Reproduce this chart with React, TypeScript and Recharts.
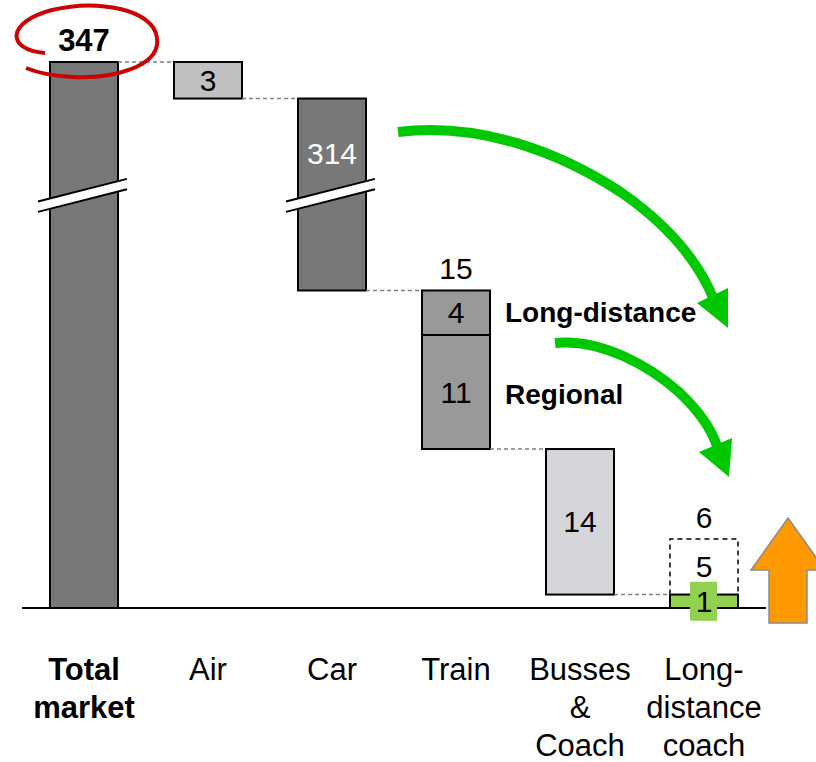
import React from 'react';
import { BarChart, Bar, XAxis, YAxis, LabelList } from 'recharts';

const FONT = '"Liberation Sans", Arial, sans-serif';

// categories and tick labels
const categories = ['Total market', 'Air', 'Car', 'Train', 'Busses & Coach', 'Long-distance coach'];
const tickLines = [['Total', 'market'], ['Air'], ['Car'], ['Train'], ['Busses', '&', 'Coach'], ['Long-', 'distance', 'coach']];

// values printed on the chart
const mainValues = ['', '3', '314', '11', '14', '1'];
const upperValues = ['', '', '', '4', '', '5'];
const topValues = ['347', '', '', '15', '', '6'];
const segmentNames = ['', '', '', 'Regional', '', ''];
const upperSegmentNames = ['', '', '', 'Long-distance', '', ''];

// plotted heights (axis is broken for Total market and Car)
const mainHeights = [52, 3.48, 18.28, 10.86, 13.86, 1.28];
const upperHeights = [0, 0, 0, 4.24, 0, 5.29];
const isPotential = [false, false, false, false, false, true];
const isBroken = [true, false, true, false, false, false];
const BREAK_LEVEL = 39.3;

const mainColors = ['#787878', '#c0c0c0', '#787878', '#999999', '#d5d6d9', '#92d050'];
const upperColors = ['none', 'none', 'none', '#999999', 'none', 'none'];

const GAP = 56;

const chartData = (() => {
  let level = mainHeights[0];
  return categories.map((name, i) => {
    if (i === 0) return { name, idx: 0, base: 0, main: mainHeights[0], upper: 0 };
    level -= mainHeights[i] + (isPotential[i] ? 0 : upperHeights[i]);
    return { name, idx: i, base: Math.max(level, 0), main: mainHeights[i], upper: upperHeights[i] };
  });
})();

const MainShape = (props: any) => {
  const { x, y, width, height, payload } = props;
  const i = payload.idx;
  const parts: React.ReactNode[] = [];
  parts.push(<rect key="r" x={x} y={y} width={width} height={height} fill={mainColors[i]} stroke="#000" strokeWidth={2} />);
  if (i < categories.length - 1) {
    const ly = i === 0 ? y : y + height;
    parts.push(<line key="c" x1={x + width} x2={x + width + GAP} y1={ly} y2={ly} stroke="#808080" strokeWidth={1.5} strokeDasharray="4 3" />);
  }
  if (isBroken[i]) {
    const py = y + (height * (payload.base + payload.main - BREAK_LEVEL)) / payload.main;
    const xl = x - 12;
    const xr = x + width + 9;
    const yl = py + 11.3;
    const yr = py - 11.3;
    parts.push(
      <g key="b">
        <polygon points={`${xl},${yl - 5.2} ${xr},${yr - 5.2} ${xr},${yr + 5.2} ${xl},${yl + 5.2}`} fill="#fff" />
        <line x1={xl} y1={yl - 5.2} x2={xr} y2={yr - 5.2} stroke="#000" strokeWidth={2} />
        <line x1={xl} y1={yl + 5.2} x2={xr} y2={yr + 5.2} stroke="#000" strokeWidth={2} />
      </g>
    );
  }
  return <g>{parts}</g>;
};

const UpperShape = (props: any) => {
  const { x, y, width, height, payload } = props;
  const i = payload.idx;
  if (!payload.upper) return <g />;
  if (isPotential[i]) {
    return (
      <path
        d={`M${x},${y + height} L${x},${y} L${x + width},${y} L${x + width},${y + height}`}
        fill="none"
        stroke="#000"
        strokeWidth={1.5}
        strokeDasharray="5 4"
      />
    );
  }
  return <rect x={x} y={y} width={width} height={height} fill={upperColors[i]} stroke="#000" strokeWidth={2} />;
};

const numText = (x: number, y: number, txt: string, opts: any = {}) => (
  <text
    x={x}
    y={y}
    textAnchor={opts.anchor || 'middle'}
    dominantBaseline="central"
    fontFamily={FONT}
    fontSize={opts.size || 30}
    fontWeight={opts.bold ? 'bold' : 'normal'}
    fill={opts.color || '#000'}
  >
    {txt}
  </text>
);

const MainLabel = (props: any) => {
  const { x, y, width, height, index } = props;
  const cx = x + width / 2;
  const out: React.ReactNode[] = [];
  if (topValues[index] && !upperHeights[index]) {
    out.push(<g key="t">{numText(cx, y - 22, topValues[index], { bold: true, size: 31 })}</g>);
  }
  if (mainValues[index]) {
    if (index === categories.length - 1) {
      out.push(<rect key="bx" x={cx - 14} y={y + height / 2 - 19.5} width={27} height={39} fill="#92d050" />);
    }
    const ly = isBroken[index] ? y + 55 : y + height / 2;
    out.push(<g key="v">{numText(cx, ly, mainValues[index], { color: mainColors[index] === '#787878' ? '#fff' : '#000' })}</g>);
  }
  if (segmentNames[index]) {
    out.push(<g key="s">{numText(x + width + 15, y + height / 2 + 2, segmentNames[index], { anchor: 'start', bold: true, size: 28 })}</g>);
  }
  return <g>{out}</g>;
};

const UpperLabel = (props: any) => {
  const { x, y, width, height, index } = props;
  if (!upperValues[index]) return <g />;
  const cx = x + width / 2;
  return (
    <g>
      {numText(cx, y + height / 2, upperValues[index])}
      {topValues[index] && numText(cx, y - 22, topValues[index])}
      {upperSegmentNames[index] &&
        numText(x + width + 15, y + height / 2, upperSegmentNames[index], { anchor: 'start', bold: true, size: 28 })}
    </g>
  );
};

const CategoryTick = (props: any) => {
  const { x, y, payload } = props;
  const lines = tickLines[payload.index] || [payload.value];
  return (
    <text x={x} y={y + 70} textAnchor="middle" fontFamily={FONT} fontSize={31} fontWeight={payload.index === 0 ? 'bold' : 'normal'} fill="#000">
      {lines.map((l, k) => (
        <tspan key={k} x={x} dy={k === 0 ? 0 : 38}>
          {l}
        </tspan>
      ))}
    </text>
  );
};

const Annotations = () => (
  <svg width={816} height={762} style={{ position: 'absolute', left: 0, top: 0, pointerEvents: 'none' }}>
    <path
      d="M45,53 C6,50 6,22 52,10 C97,-1 154,9 157,38 C161,67 112,79 72,77 C52,76 36,72 26,68"
      fill="none"
      stroke="#cc0000"
      strokeWidth={4}
    />
    <path d="M398,132 C480,122 560,152 622,193 C672,228 700,265 714,300" fill="none" stroke="#00c800" strokeWidth={10} />
    <polygon points="697,303 728,288 728,328" fill="#00c800" />
    <path d="M555,343 C600,338 650,366 680,393 C700,412 711,428 717,446" fill="none" stroke="#00c800" strokeWidth={10} />
    <polygon points="699,452 732,438 729,477" fill="#00c800" />
    <polygon points="788,518 825,570 807,570 807,623 769,623 769,570 751,570" fill="#ff9900" stroke="#8c8c8c" strokeWidth={1.5} />
  </svg>
);

export default function App() {
  return (
    <div style={{ position: 'absolute', left: 0, top: 0, width: 816, height: 762, background: '#fff' }}>
      <BarChart width={816} height={762} data={chartData} margin={{ top: 62, right: 50, left: 22, bottom: 0 }} barSize={68}>
        <XAxis
          dataKey="name"
          height={154}
          interval={0}
          tickLine={false}
          tickSize={0}
          axisLine={{ stroke: '#000', strokeWidth: 2 }}
          tick={<CategoryTick />}
        />
        <YAxis hide domain={[0, 52]} />
        <Bar dataKey="base" stackId="a" fill="transparent" isAnimationActive={false} />
        <Bar dataKey="main" stackId="a" shape={<MainShape />} isAnimationActive={false}>
          <LabelList dataKey="main" content={<MainLabel />} />
        </Bar>
        <Bar dataKey="upper" stackId="a" shape={<UpperShape />} isAnimationActive={false}>
          <LabelList dataKey="upper" content={<UpperLabel />} />
        </Bar>
      </BarChart>
      <Annotations />
    </div>
  );
}
